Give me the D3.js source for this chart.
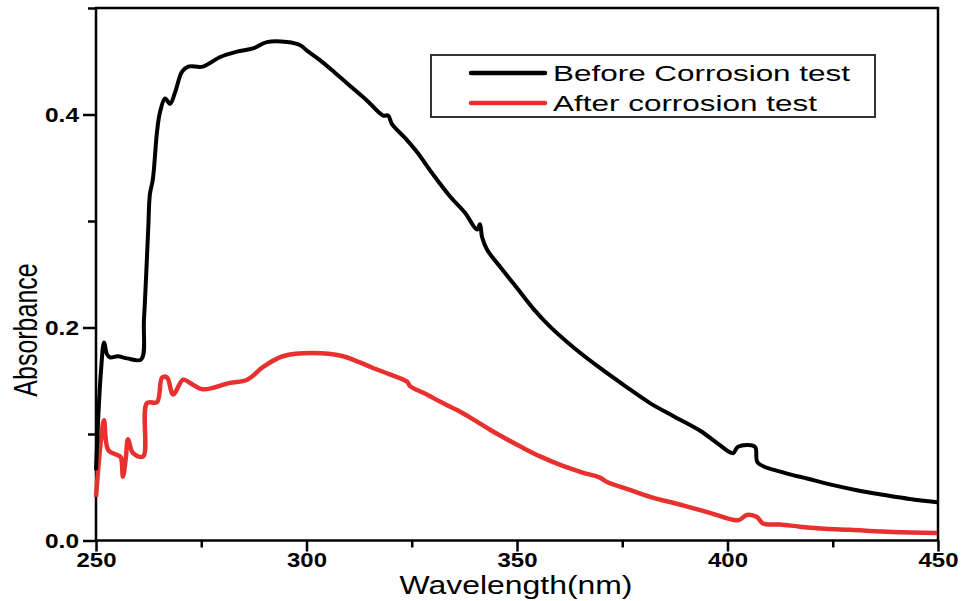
<!DOCTYPE html>
<html lang="en">
<head>
  <meta charset="UTF-8">
  <title>Absorbance before and after corrosion test</title>
  <script src="https://d3js.org/d3.v7.min.js"></script>
  <style>
    body { margin: 0; background: #fff; }
    text { font-family: "Liberation Sans", Arial, sans-serif; fill: #000; }
    .tick line { stroke: #000; stroke-width: 2.5px; }
    .tick text { font-weight: bold; font-size: 20px; }
  </style>
</head>
<body>
  <div id="chart"></div>
  <script>
    // series: Before Corrosion test
    const beforeWl = [250.0, 250.5, 251.2, 251.9, 252.6, 253.3, 255.2, 257.4, 260.7, 261.4, 262.4, 262.8, 263.5, 264.5, 265.2, 266.4, 267.6, 268.8, 270.4, 271.9, 275.4, 279.5, 283.5, 287.3, 290.6, 295.4, 298.5, 300.1, 303.2, 306.8, 310.3, 314.4, 318.2, 319.4, 320.3, 323.4, 326.2, 330.0, 334.1, 337.6, 340.5, 341.2, 341.7, 342.9, 346.4, 350.0, 353.8, 357.8, 363.8, 369.7, 375.7, 381.6, 387.5, 393.5, 397.7, 401.3, 402.5, 406.5, 407.2, 413.2, 419.1, 425.1, 431.0, 436.9, 443.3, 449.8];
    const beforeAbs = [0.066, 0.113, 0.160, 0.186, 0.175, 0.172, 0.173, 0.171, 0.170, 0.208, 0.292, 0.325, 0.339, 0.384, 0.402, 0.415, 0.410, 0.421, 0.440, 0.445, 0.445, 0.454, 0.459, 0.462, 0.468, 0.468, 0.465, 0.460, 0.451, 0.439, 0.427, 0.413, 0.399, 0.399, 0.391, 0.378, 0.365, 0.344, 0.323, 0.308, 0.292, 0.297, 0.285, 0.273, 0.255, 0.237, 0.218, 0.201, 0.180, 0.162, 0.145, 0.129, 0.116, 0.103, 0.091, 0.082, 0.088, 0.088, 0.073, 0.064, 0.058, 0.052, 0.047, 0.043, 0.039, 0.036];

    // series: After corrosion test
    const afterWl = [250.0, 250.5, 251.2, 251.9, 252.9, 255.2, 255.9, 256.4, 257.1, 257.6, 258.8, 261.2, 262.1, 264.5, 265.7, 266.9, 268.3, 270.7, 272.3, 275.4, 281.8, 285.9, 289.7, 294.4, 301.5, 308.7, 312.2, 315.8, 319.8, 323.9, 324.6, 328.6, 332.4, 336.0, 339.5, 343.6, 347.6, 351.4, 355.5, 360.9, 365.4, 369.7, 371.4, 376.4, 381.6, 389.4, 395.8, 402.5, 404.6, 407.0, 408.4, 412.5, 417.2, 423.2, 429.1, 439.3, 449.8];
    const afterAbs = [0.041, 0.066, 0.095, 0.113, 0.085, 0.080, 0.078, 0.060, 0.078, 0.095, 0.082, 0.079, 0.129, 0.130, 0.153, 0.153, 0.137, 0.151, 0.148, 0.142, 0.148, 0.151, 0.163, 0.173, 0.176, 0.173, 0.168, 0.162, 0.156, 0.149, 0.145, 0.137, 0.129, 0.122, 0.114, 0.104, 0.095, 0.087, 0.079, 0.070, 0.064, 0.059, 0.055, 0.048, 0.041, 0.033, 0.026, 0.019, 0.024, 0.022, 0.016, 0.015, 0.013, 0.011, 0.010, 0.008, 0.007];

    const seriesNames = ["Before Corrosion test", "After corrosion test"];
    const seriesColors = ["#000000", "#e8312f"];
    const xTicks = [250, 300, 350, 400, 450];
    const xMinorTicks = [275, 325, 375, 425];
    const yTicks = [0.0, 0.2, 0.4];
    const yMinorTicks = [0.1, 0.3, 0.5];

    const width = 964, height = 601;
    const margin = { top: 8, right: 26, bottom: 60.5, left: 96 };

    const svg = d3.select("#chart")
      .append("svg")
      .attr("width", width)
      .attr("height", height);

    const x = d3.scaleLinear().domain([250, 450]).range([margin.left, width - margin.right]);
    const y = d3.scaleLinear().domain([0, 0.5]).range([height - margin.bottom, margin.top]);

    // bottom axis
    const xAxis = svg.append("g")
      .attr("transform", `translate(0,${y(0)})`)
      .call(d3.axisBottom(x).tickValues(xTicks).tickSize(11).tickSizeOuter(0).tickFormat(d3.format("d")));
    xAxis.select(".domain").remove();
    xAxis.selectAll("text")
      .attr("dy", null)
      .attr("y", 26)
      .attr("textLength", 40)
      .attr("lengthAdjust", "spacingAndGlyphs");

    svg.append("g")
      .attr("transform", `translate(0,${y(0)})`)
      .call(d3.axisBottom(x).tickValues(xMinorTicks).tickSize(7).tickFormat(""))
      .select(".domain").remove();

    // left axis
    const yAxis = svg.append("g")
      .attr("transform", `translate(${x(250)},0)`)
      .call(d3.axisLeft(y).tickValues(yTicks).tickSize(13).tickSizeOuter(0).tickFormat(d3.format(".1f")));
    yAxis.select(".domain").remove();
    yAxis.selectAll("text")
      .attr("dy", null)
      .attr("x", -17)
      .attr("y", 7)
      .attr("textLength", 34)
      .attr("lengthAdjust", "spacingAndGlyphs");

    svg.append("g")
      .attr("transform", `translate(${x(250)},0)`)
      .call(d3.axisLeft(y).tickValues(yMinorTicks).tickSize(8).tickFormat(""))
      .select(".domain").remove();

    // frame
    svg.append("rect")
      .attr("x", x(250))
      .attr("y", y(0.5))
      .attr("width", x(450) - x(250))
      .attr("height", y(0) - y(0.5))
      .attr("fill", "none")
      .attr("stroke", "#000")
      .attr("stroke-width", 2.5);

    // curves
    const line = d3.line()
      .curve(d3.curveCatmullRom.alpha(0.5))
      .x(d => x(d[0]))
      .y(d => y(d[1]));

    const beforeData = d3.zip(beforeWl, beforeAbs);
    const afterData = d3.zip(afterWl, afterAbs);

    svg.append("path")
      .datum(afterData)
      .attr("fill", "none")
      .attr("stroke", seriesColors[1])
      .attr("stroke-width", 4.5)
      .attr("stroke-linejoin", "round")
      .attr("d", line);

    svg.append("path")
      .datum(beforeData)
      .attr("fill", "none")
      .attr("stroke", seriesColors[0])
      .attr("stroke-width", 4)
      .attr("stroke-linejoin", "round")
      .attr("d", line);

    // axis titles
    svg.append("text")
      .attr("x", 516)
      .attr("y", 594)
      .attr("text-anchor", "middle")
      .attr("textLength", 233)
      .attr("lengthAdjust", "spacingAndGlyphs")
      .style("font-size", "25px")
      .text("Wavelength(nm)");

    svg.append("text")
      .attr("transform", "translate(37,330) scale(1.35,1) rotate(-90)")
      .attr("text-anchor", "middle")
      .style("font-size", "25px")
      .text("Absorbance");

    // legend
    const legend = svg.append("g");
    legend.append("rect")
      .attr("x", 431)
      .attr("y", 55)
      .attr("width", 444)
      .attr("height", 62)
      .attr("fill", "#fff")
      .attr("stroke", "#333")
      .attr("stroke-width", 2);

    const legendLens = [297, 264];
    seriesNames.forEach((name, i) => {
      const ly = 73 + i * 30;
      legend.append("line")
        .attr("x1", 471)
        .attr("x2", 545)
        .attr("y1", ly)
        .attr("y2", ly)
        .attr("stroke", seriesColors[i])
        .attr("stroke-width", 4.5)
        .attr("stroke-linecap", "round");
      legend.append("text")
        .attr("x", 553)
        .attr("y", ly + 8)
        .attr("textLength", legendLens[i])
        .attr("lengthAdjust", "spacingAndGlyphs")
        .style("font-size", "22px")
        .text(name);
    });
  </script>
</body>
</html>
